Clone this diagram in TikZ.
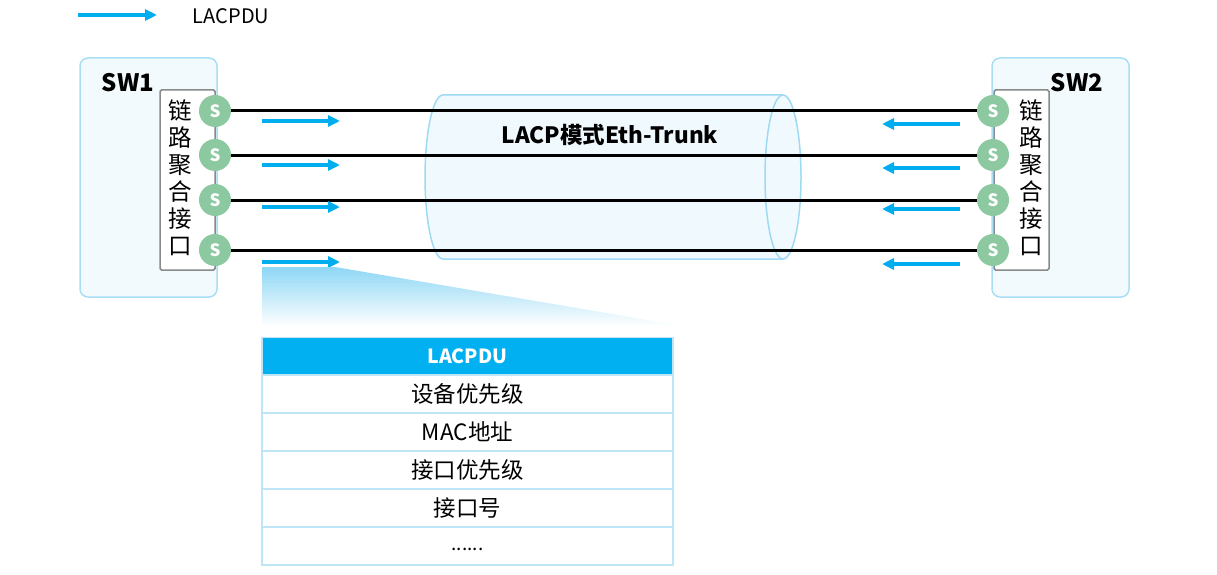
\documentclass[tikz,border=0pt]{standalone}
\usepackage{fontspec}
\setmainfont{Noto Sans CJK SC}
\usepackage{tikz}
\usetikzlibrary{positioning, calc, arrows.meta}
\definecolor{swBg}{HTML}{F2FAFE}
\definecolor{swFg}{HTML}{A9DEF6}
\definecolor{ifGray}{HTML}{8A8A8A}
\definecolor{portFill}{HTML}{8CC9A0}
\definecolor{pduBlue}{HTML}{00AEEF}
\definecolor{cylFg}{HTML}{9FDAF3}
\definecolor{cylBg}{HTML}{F0F9FE}
\definecolor{fanTop}{HTML}{8ED7F5}
\definecolor{tblFg}{HTML}{BEE6F6}
\definecolor{tblHead}{HTML}{00B0F0}

\begin{document}
\begin{tikzpicture}[x=1pt, y=-1pt,
    swbox/.style={draw=swFg, fill=swBg, rounded corners=8pt, line width=1.5pt, minimum width=137pt, minimum height=239pt},
    ifbox/.style={draw=ifGray, fill=white, rounded corners=1.5pt, line width=1.5pt, minimum width=55pt, minimum height=180pt, inner sep=0pt},
    iftxt/.style={align=center, inner sep=0pt, font=\fontsize{23.5}{27}\selectfont},
    port/.style={circle, fill=portFill, minimum size=32pt, inner sep=0pt, text=white, font=\fontsize{17}{17}\selectfont\bfseries},
    link/.style={line width=3pt, black},
    pdu/.style={-{Triangle[length=12pt, width=11pt]}, line width=3.5pt, pduBlue},
    row/.style={draw=tblFg, fill=white, line width=1.5pt, minimum width=411pt, minimum height=38pt, inner sep=0pt, font=\fontsize{22.5}{22.5}\selectfont},
]
\useasboundingbox (0,0) rectangle (1217,575);

% legend
\coordinate (legA) at (78,15);
\coordinate (legB) at (157,15);
\draw[pdu] (legA) -- (legB);
\node[font=\fontsize{20}{20}\selectfont] (legTxt) at (231,16) {LACPDU};

% trunk cylinder
\filldraw[draw=cylFg, fill=cylBg, line width=1.5pt] (443,95) -- (783,95) arc(-90:90:18 and 82) -- (443,259) arc(90:270:18 and 82) -- cycle;
\draw[cylFg, line width=1.5pt] (783,95) arc(-90:-270:18 and 82);
\node[font=\fontsize{22.5}{22.5}\selectfont\bfseries] (trunk) at (610,135) {LACP模式Eth-Trunk};

% switches
\node[swbox] (sw1) at (148.5,177.5) {};
\node[swbox] (sw2) at (1060.5,177.5) {};
\node[font=\fontsize{24}{24}\selectfont\bfseries] (sw1Txt) at (128,83) {SW1};
\node[font=\fontsize{24}{24}\selectfont\bfseries] (sw2Txt) at (1077,83) {SW2};
\node[ifbox] (if1) at (187.5,180) {};
\node[ifbox] (if2) at (1021.5,180) {};
\node[iftxt] (if1Txt) at (180,178) {链\\路\\聚\\合\\接\\口};
\node[iftxt] (if2Txt) at (1031,178) {链\\路\\聚\\合\\接\\口};

% member ports
\node[port] (pL1) at (215,111) {S};
\node[port] (pL2) at (215,155) {S};
\node[port] (pL3) at (215,200) {S};
\node[port] (pL4) at (215,250) {S};
\node[port] (pR1) at (993,111) {S};
\node[port] (pR2) at (993,155) {S};
\node[port] (pR3) at (993,200) {S};
\node[port] (pR4) at (993,250) {S};

\draw[link] (pL1) -- (pR1);
\draw[link] (pL2) -- (pR2);
\draw[link] (pL3) -- (pR3);
\draw[link] (pL4) -- (pR4);

% LACPDUs sent by SW1
\coordinate (tx1a) at (262,121); \coordinate (tx1b) at (340,121);
\coordinate (tx2a) at (262,165); \coordinate (tx2b) at (340,165);
\coordinate (tx3a) at (262,207); \coordinate (tx3b) at (340,207);
\coordinate (tx4a) at (262,262); \coordinate (tx4b) at (340,262);
\draw[pdu] (tx1a) -- (tx1b);
\draw[pdu] (tx2a) -- (tx2b);
\draw[pdu] (tx3a) -- (tx3b);
\draw[pdu] (tx4a) -- (tx4b);

% LACPDUs sent by SW2
\coordinate (rx1a) at (960,124); \coordinate (rx1b) at (882,124);
\coordinate (rx2a) at (960,168); \coordinate (rx2b) at (882,168);
\coordinate (rx3a) at (960,209); \coordinate (rx3b) at (882,209);
\coordinate (rx4a) at (960,264); \coordinate (rx4b) at (882,264);
\draw[pdu] (rx1a) -- (rx1b);
\draw[pdu] (rx2a) -- (rx2b);
\draw[pdu] (rx3a) -- (rx3b);
\draw[pdu] (rx4a) -- (rx4b);

% zoom fan
\shade[top color=fanTop, bottom color=white] (262,267) -- (335,267) -- (683,326) -- (262,326) -- cycle;

% LACPDU fields
\node[row, fill=tblHead, text=white, font=\fontsize{19.5}{19.5}\selectfont\bfseries] (hdr) at (467.5,356.5) {LACPDU};
\node[row] (f1) at (467.5,394) {设备优先级};
\node[row] (f2) at (467.5,432) {MAC地址};
\node[row] (f3) at (467.5,470) {接口优先级};
\node[row] (f4) at (467.5,508) {接口号};
\node[row, font=\fontsize{19}{19}\selectfont] (f5) at (467.5,546) {\raisebox{-10pt}{......}};
\end{tikzpicture}
\end{document}
